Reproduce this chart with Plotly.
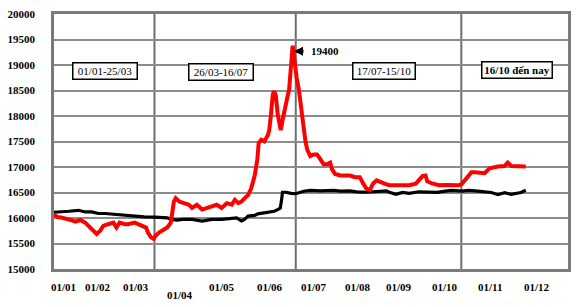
import plotly.graph_objects as go

# ---------------- data (x in month units: 0 = 01/01, 1 = 01/02, ...) ----------------
red_x = [0.11, 0.19, 0.30, 0.41, 0.52, 0.60, 0.71, 0.82, 0.90, 1.01, 1.08, 1.16, 1.23, 1.34,
         1.46, 1.53, 1.60, 1.72, 1.79, 1.94, 2.09, 2.20, 2.24, 2.31, 2.37, 2.42, 2.50, 2.57,
         2.68, 2.76, 2.80, 2.83, 2.87, 2.95, 3.06, 3.17, 3.24, 3.35, 3.47, 3.58, 3.69, 3.80,
         3.91, 4.03, 4.14, 4.21, 4.29, 4.36, 4.43, 4.51, 4.58, 4.66, 4.72, 4.75, 4.81, 4.88,
         4.96, 4.99, 5.03, 5.07, 5.10, 5.14, 5.18, 5.22, 5.25, 5.29, 5.33, 5.40, 5.44, 5.48,
         5.52, 5.55, 5.57, 5.61, 5.66, 5.70, 5.74, 5.77, 5.81, 5.85, 5.89, 5.92, 6.00, 6.07,
         6.15, 6.22, 6.30, 6.37, 6.41, 6.48, 6.60, 6.71, 6.82, 6.93, 7.04, 7.12, 7.19, 7.27,
         7.34, 7.42, 7.49, 7.60, 7.71, 7.86, 8.01, 8.16, 8.31, 8.42, 8.46, 8.53, 8.57, 8.68,
         8.83, 8.98, 9.13, 9.28, 9.35, 9.50, 9.57, 9.65, 9.72, 9.87, 9.98, 10.17, 10.32,
         10.39, 10.47, 10.62, 10.80]
red_y = [16069, 16018, 16005, 15985, 15955, 15928, 15960, 15909, 15846, 15750, 15687, 15750,
         15846, 15878, 15909, 15813, 15909, 15878, 15878, 15909, 15846, 15813, 15718, 15622,
         15592, 15655, 15718, 15750, 15813, 15909, 16132, 16323, 16386, 16323, 16291, 16260,
         16196, 16260, 16165, 16196, 16228, 16260, 16196, 16291, 16260, 16356, 16291, 16323,
         16386, 16451, 16577, 16833, 17150, 17469, 17532, 17502, 17628, 17723, 18042, 18424,
         18487, 18392, 18042, 17851, 17723, 17914, 18105, 18367, 18520, 18902, 19379, 19188,
         18997, 18749, 18520, 18233, 17889, 17660, 17502, 17341, 17246, 17215, 17246, 17246,
         17150, 17055, 17055, 17087, 16959, 16864, 16833, 16833, 16833, 16801, 16801, 16673,
         16577, 16547, 16673, 16738, 16705, 16673, 16642, 16642, 16642, 16642, 16673, 16768,
         16820, 16833, 16719, 16677, 16642, 16648, 16642, 16642, 16667, 16820, 16896, 16896,
         16896, 16877, 16973, 17011, 17020, 17087, 17020, 17011, 17011]

black_x = [0.11, 0.30, 0.45, 0.67, 0.82, 0.97, 1.12, 1.27, 1.49, 1.72, 1.94, 2.16, 2.39,
           2.57, 2.68, 2.76, 2.91, 3.02, 3.24, 3.47, 3.69, 3.91, 4.14, 4.25, 4.36, 4.43,
           4.51, 4.66, 4.73, 4.85, 4.96, 5.10, 5.18, 5.24, 5.27, 5.29, 5.37, 5.48, 5.59,
           5.70, 5.77, 5.92, 6.15, 6.45, 6.60, 6.82, 6.97, 7.19, 7.34, 7.64, 7.71, 7.86,
           8.01, 8.16, 8.38, 8.61, 8.79, 8.98, 9.13, 9.35, 9.50, 9.72, 9.95, 10.02, 10.17,
           10.32, 10.47, 10.62, 10.69, 10.80]
black_y = [16113, 16119, 16132, 16151, 16119, 16119, 16088, 16088, 16069, 16050, 16037,
           16024, 16018, 16018, 16004, 15974, 15960, 15974, 15974, 15941, 15974, 15974,
           15985, 16004, 15941, 15974, 16037, 16050, 16081, 16100, 16119, 16132, 16165,
           16196, 16361, 16505, 16505, 16482, 16476, 16514, 16524, 16543, 16533, 16543,
           16528, 16533, 16514, 16505, 16514, 16533, 16505, 16463, 16501, 16482, 16514,
           16514, 16501, 16528, 16543, 16528, 16543, 16528, 16514, 16501, 16457, 16495,
           16463, 16482, 16501, 16543]

y_ticks = [15000, 15500, 16000, 16500, 17000, 17500, 18000, 18500, 19000, 19500, 20000]
x_tick_labels = ["01/01", "01/02", "01/03", "01/04", "01/05", "01/06",
                 "01/07", "01/08", "01/09", "01/10", "01/11", "01/12"]
x_tick_pos = [0.32, 1.1, 1.97, 2.97, 3.93, 5, 6, 7, 7.93, 8.97, 10, 11.05]

period_bounds = [2.39, 5.59, 9.34]
period_labels = ["01/01-25/03", "26/03-16/07", "17/07-15/10", "16/10 đến nay"]
period_label_x = [1.28, 3.89, 7.58, 10.60]
period_label_y = [18873, 18864, 18883, 18902]

peak_x = 5.55
peak_y = 19270
peak_label = "19400"

# ---------------- figure ----------------
SERIF = "Liberation Serif, Times New Roman, serif"

fig = go.Figure()
fig.add_trace(go.Scatter(x=black_x, y=black_y, mode="lines",
                         line=dict(color="#000000", width=3.2), hoverinfo="skip"))
fig.add_trace(go.Scatter(x=red_x, y=red_y, mode="lines",
                         line=dict(color="#ff0000", width=4), hoverinfo="skip"))

for b in period_bounds:
    fig.add_shape(type="line", xref="x", yref="y", x0=b, x1=b, y0=15000, y1=20000,
                  line=dict(color="#6e6e6e", width=2), layer="below")

annotations = []
for lab, px in zip(x_tick_labels, x_tick_pos):
    annotations.append(dict(x=px, y=0, xref="x", yref="paper", text=lab, showarrow=False,
                            yanchor="top", yshift=-10 if lab != "01/04" else -18,
                            font=dict(family=SERIF, size=11, color="#000", weight="bold")))

box_widths = [61, 61, 59, 67]
for lab, bx, by, w in zip(period_labels, period_label_x, period_label_y, box_widths):
    annotations.append(dict(x=bx, y=by, xref="x", yref="y", text=lab, showarrow=False,
                            bgcolor="#ffffff", bordercolor="#000000", borderwidth=1.5,
                            borderpad=1, width=w, height=13,
                            font=dict(family=SERIF, size=11, color="#000",
                                      weight="bold" if "đến" in lab else "normal")))

annotations.append(dict(x=peak_x, y=peak_y, xref="x", yref="y", text=peak_label,
                        showarrow=True, ax=31, ay=0, arrowhead=2, arrowsize=0.6,
                        arrowwidth=3, arrowcolor="#000000", startstandoff=6,
                        font=dict(family=SERIF, size=11, color="#000", weight="bold")))

fig.update_layout(
    width=579, height=307,
    margin=dict(l=50, r=8, t=8, b=38),
    paper_bgcolor="#ffffff", plot_bgcolor="#ffffff",
    showlegend=False,
    annotations=annotations,
    xaxis=dict(range=[0.114, 11.757], showgrid=False, zeroline=False,
               showticklabels=False, ticks="",
               showline=True, mirror=True, linecolor="#7a7a7a", linewidth=2.5),
    yaxis=dict(range=[15000, 20000], tickvals=y_ticks, ticktext=[str(v) for v in y_ticks],
               showgrid=True, gridcolor="#8c8c8c", gridwidth=1.5, zeroline=False,
               ticks="", ticklabelstandoff=14,
               tickfont=dict(family=SERIF, size=11, color="#000", weight="bold"),
               showline=True, mirror=True, linecolor="#7a7a7a", linewidth=2.5),
)

fig.write_html("out.html")
